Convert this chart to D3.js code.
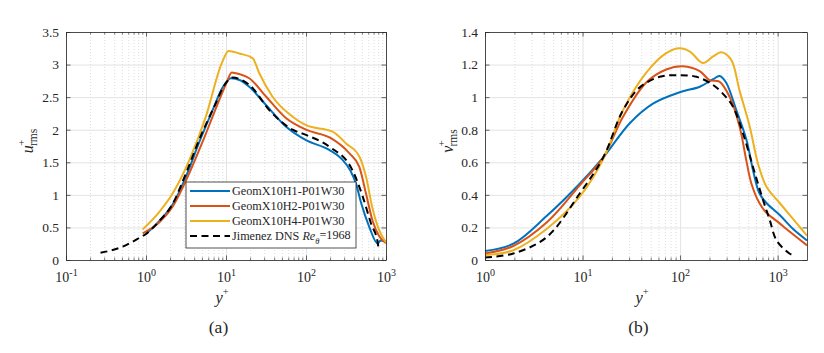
<!DOCTYPE html>
<html><head><meta charset="utf-8">
<script src="https://cdn.jsdelivr.net/npm/d3@7"></script>
<style>
body{margin:0;background:#fff;}
svg text, svg tspan{font-family:"Liberation Serif","DejaVu Serif",serif !important;fill:#262626;}
</style></head>
<body><svg id="c" width="824" height="353" font-family="Liberation Serif"></svg>
<script>
// ---------- data: panel (a) u+rms ----------
const aH1x = [1, 1.47, 2.15, 3.16, 4.6, 6.8, 9.1, 11.5, 15, 19.5, 31.6, 56, 100, 195, 280, 363, 420, 490, 617, 790, 850, 1000];
const aH1y = [0.40, 0.60, 0.85, 1.28, 1.80, 2.30, 2.65, 2.79, 2.76, 2.66, 2.38, 2.05, 1.84, 1.69, 1.55, 1.36, 1.18, 0.87, 0.51, 0.25, 0.30, 0.29];
const aH2x = [0.91, 1.47, 2.15, 3.47, 5.2, 7.6, 10, 11.8, 15, 19.5, 31.6, 56, 100, 205, 347, 464, 562, 676, 826, 1000];
const aH2y = [0.41, 0.58, 0.82, 1.33, 1.84, 2.35, 2.70, 2.88, 2.85, 2.79, 2.51, 2.18, 2.00, 1.87, 1.64, 1.43, 1.02, 0.61, 0.36, 0.26];
const aH4x = [0.91, 1.47, 2.15, 3.47, 5.6, 8.9, 10.8, 14.7, 21.5, 26, 38, 68, 100, 215, 316, 464, 562, 676, 826, 1000];
const aH4y = [0.47, 0.74, 1.02, 1.53, 2.20, 3.03, 3.21, 3.17, 3.10, 2.87, 2.51, 2.20, 2.07, 1.97, 1.79, 1.59, 1.28, 0.80, 0.45, 0.27];
const aDNSx = [0.27, 0.5, 0.8, 1, 1.47, 2.15, 3.16, 4.6, 7.1, 10, 12.1, 19.5, 36, 68, 100, 195, 380, 513, 650, 790, 810];
const aDNSy = [0.11, 0.20, 0.33, 0.40, 0.60, 0.86, 1.33, 1.84, 2.35, 2.72, 2.80, 2.69, 2.28, 2.00, 1.92, 1.74, 1.38, 0.97, 0.56, 0.26, 0.16];
// ---------- data: panel (b) v+rms ----------
const bH1x = [1, 1.95, 4.28, 9.4, 16.3, 30.5, 52.7, 99, 159, 218, 254, 296, 377, 478, 560, 650, 768, 1050, 1440, 2000];
const bH1y = [0.055, 0.10, 0.27, 0.47, 0.63, 0.84, 0.96, 1.03, 1.064, 1.11, 1.13, 1.09, 0.92, 0.74, 0.55, 0.41, 0.35, 0.276, 0.19, 0.12];
const bH2x = [1, 1.95, 4.28, 9.4, 16.3, 26, 45, 72, 107, 159, 200, 253, 323, 407, 478, 538, 650, 768, 1050, 1230, 2000];
const bH2y = [0.04, 0.086, 0.23, 0.46, 0.63, 0.88, 1.09, 1.17, 1.19, 1.16, 1.105, 1.095, 1.00, 0.82, 0.61, 0.47, 0.35, 0.29, 0.225, 0.19, 0.09];
const bH4x = [1, 1.95, 4.28, 9.4, 16.3, 26, 45, 72, 99, 126, 171, 218, 264, 333, 407, 517, 630, 768, 1050, 2000];
const bH4y = [0.03, 0.06, 0.19, 0.39, 0.62, 0.92, 1.15, 1.27, 1.30, 1.28, 1.21, 1.25, 1.275, 1.23, 1.04, 0.82, 0.59, 0.45, 0.35, 0.15];
const bDNSx = [1, 1.95, 4.28, 9.4, 16.3, 26, 38.6, 62, 99, 147, 218, 296, 350, 440, 560, 707, 826, 975, 1320, 1440];
const bDNSy = [0.015, 0.04, 0.14, 0.41, 0.63, 0.92, 1.06, 1.125, 1.135, 1.125, 1.075, 1.00, 0.94, 0.78, 0.57, 0.37, 0.25, 0.12, 0.04, 0.03];

const legendLabels = ["GeomX10H1-P01W30", "GeomX10H2-P01W30", "GeomX10H4-P01W30", "Jimenez DNS "];
const colors = ["#0072BD", "#D95319", "#EDB120", "#000000"];
const aYTicks = [0, 0.5, 1, 1.5, 2, 2.5, 3, 3.5];
const bYTicks = [0, 0.2, 0.4, 0.6, 0.8, 1, 1.2, 1.4];
const aXTicks = [0.1, 1, 10, 100, 1000];
const bXTicks = [1, 10, 100, 1000];

const FONT = "Liberation Serif";
const svg = d3.select("#c");
const AX = "#262626";

function minorTicks(lo, hi){
  const out=[];
  for(let e=Math.floor(Math.log10(lo)); e<=Math.ceil(Math.log10(hi)); e++){
    for(let m=2;m<=9;m++){const v=m*Math.pow(10,e); if(v>lo&&v<hi) out.push(v);}
  }
  return out;
}

function panel(cfg){
  const x=d3.scaleLog().domain(cfg.xd).range(cfg.xr);
  const y=d3.scaleLinear().domain(cfg.yd).range([260,32]);
  const g=svg.append("g");
  const W=cfg.xr[1]-cfg.xr[0], H=228;
  const cx=(cfg.xr[0]+cfg.xr[1])/2;
  const minors=minorTicks(cfg.xd[0],cfg.xd[1]);
  g.append("g").attr("transform","translate(0,260)")
    .call(d3.axisBottom(x).tickValues(minors).tickSize(-H).tickFormat(""))
    .call(s=>{s.select(".domain").remove();s.selectAll("line").attr("stroke","#d4d4d4").attr("stroke-width",0.8).attr("stroke-dasharray","1,2");});
  g.append("g").attr("transform","translate(0,260)")
    .call(d3.axisBottom(x).tickValues(cfg.xt).tickSize(-H).tickFormat(""))
    .call(s=>{s.select(".domain").remove();s.selectAll("line").attr("stroke","#e3e3e3").attr("stroke-width",1);});
  g.append("g").attr("transform",`translate(${cfg.xr[0]},0)`)
    .call(d3.axisLeft(y).tickValues(cfg.yt).tickSize(-W).tickFormat(""))
    .call(s=>{s.select(".domain").remove();s.selectAll("line").attr("stroke","#e3e3e3").attr("stroke-width",1);});

  const line=d3.line().x(d=>x(d[0])).y(d=>y(d[1])).curve(cfg.curve);
  cfg.series.forEach((s,i)=>{
    const pts=s[0].map((v,k)=>[v,s[1][k]]);
    g.append("path").datum(pts).attr("d",line).attr("fill","none")
      .attr("stroke",colors[i]).attr("stroke-width",2)
      .attr("stroke-dasharray", i===3?"7,4.5":null)
      .attr("stroke-linejoin","round");
  });

  const tickStyle=s=>{s.attr("font-family",FONT);s.select(".domain").attr("stroke",AX).attr("stroke-width",0.8);s.selectAll("line").attr("stroke",AX).attr("stroke-width",0.7);};
  const bx=g.append("g").attr("transform","translate(0,260)")
    .call(d3.axisBottom(x).tickValues(cfg.xt).tickSizeInner(-4.5).tickSizeOuter(0).tickPadding(12).tickFormat(""))
    .call(tickStyle);
  bx.selectAll(".tick text").each(function(d){
    const t=d3.select(this).attr("font-size",14).attr("fill",AX).attr("dy","0.69em").attr("font-family",FONT);
    const e=Math.round(Math.log10(d));
    t.text(null);
    t.append("tspan").text("10");
    t.append("tspan").attr("font-size",10).attr("dy","-0.6em").text(String(e));
  });
  g.append("g").attr("transform","translate(0,260)")
    .call(d3.axisBottom(x).tickValues(minors).tickSize(-2.5).tickFormat(""))
    .call(s=>{s.select(".domain").remove();s.selectAll("line").attr("stroke",AX).attr("stroke-width",0.6);});
  g.append("g").attr("transform","translate(0,32)")
    .call(d3.axisTop(x).tickValues(cfg.xt).tickSizeInner(-4.5).tickSizeOuter(0).tickFormat(""))
    .call(tickStyle);
  g.append("g").attr("transform","translate(0,32)")
    .call(d3.axisTop(x).tickValues(minors).tickSize(-2.5).tickFormat(""))
    .call(s=>{s.select(".domain").remove();s.selectAll("line").attr("stroke",AX).attr("stroke-width",0.6);});
  g.append("g").attr("transform",`translate(${cfg.xr[0]},0)`)
    .call(d3.axisLeft(y).tickValues(cfg.yt).tickSizeInner(-4.5).tickSizeOuter(0).tickPadding(7).tickFormat(d3.format("")))
    .call(tickStyle)
    .call(s=>s.selectAll("text").attr("font-size",13.5).attr("fill",AX).attr("font-family",FONT));
  g.append("g").attr("transform",`translate(${cfg.xr[1]},0)`)
    .call(d3.axisRight(y).tickValues(cfg.yt).tickSizeInner(-4.5).tickSizeOuter(0).tickFormat(""))
    .call(tickStyle);

  const xl=g.append("text").attr("font-family",FONT).attr("x",cx-4).attr("y",303).attr("text-anchor","middle").attr("font-size",16.5);
  xl.append("tspan").attr("font-style","italic").text("y");
  xl.append("tspan").attr("font-size",10.5).attr("dy","-0.75em").text("+");
  g.append("text").attr("font-family",FONT).attr("x",cx-7.5).attr("y",333).attr("text-anchor","middle").attr("font-size",17.5).text(cfg.tag);
  const yl=g.append("text").attr("font-family",FONT).attr("transform",`translate(${cfg.ylx},141) rotate(-90)`).attr("text-anchor","middle").attr("font-size",16);
  yl.append("tspan").attr("font-style","italic").text(cfg.yv);
  yl.append("tspan").attr("font-size",10.5).attr("dy","-0.8em").attr("dx","-0.05em").text("+");
  yl.append("tspan").attr("font-size",11.5).attr("dy","1.1em").attr("dx","-0.55em").text("rms");
  return {x,y,g};
}

panel({xd:[0.1,1000],xr:[66,386],yd:[0,3.5],xt:aXTicks,yt:aYTicks,curve:d3.curveMonotoneX,
  series:[[aH1x,aH1y],[aH2x,aH2y],[aH4x,aH4y],[aDNSx,aDNSy]],tag:"(a)",yv:"u",ylx:33});
panel({xd:[1,2000],xr:[485,807],yd:[0,1.4],xt:bXTicks,yt:bYTicks,curve:d3.curveCatmullRom.alpha(0.5),
  series:[[bH1x,bH1y],[bH2x,bH2y],[bH4x,bH4y],[bDNSx,bDNSy]],tag:"(b)",yv:"v",ylx:453});

const lg=svg.append("g").attr("font-family",FONT);
lg.append("rect").attr("x",186).attr("y",182).attr("width",170).attr("height",66).attr("fill","#fff").attr("stroke",AX).attr("stroke-width",0.8);
legendLabels.forEach((lab,i)=>{
  const yy=191+i*15;
  lg.append("line").attr("x1",190).attr("x2",230).attr("y1",yy).attr("y2",yy)
    .attr("stroke",colors[i]).attr("stroke-width",2).attr("stroke-dasharray",i===3?"7,4.5":null);
  const t=lg.append("text").attr("font-family",FONT).attr("x",232).attr("y",yy+4.2).attr("font-size",12.2).text(lab);
  if(i===3){
    t.append("tspan").attr("font-style","italic").text("Re");
    t.append("tspan").attr("font-style","italic").attr("font-size",8.5).attr("dy","0.45em").text("θ");
    t.append("tspan").attr("dy","-0.45em").text("=1968");
  }
});
</script></body></html>
